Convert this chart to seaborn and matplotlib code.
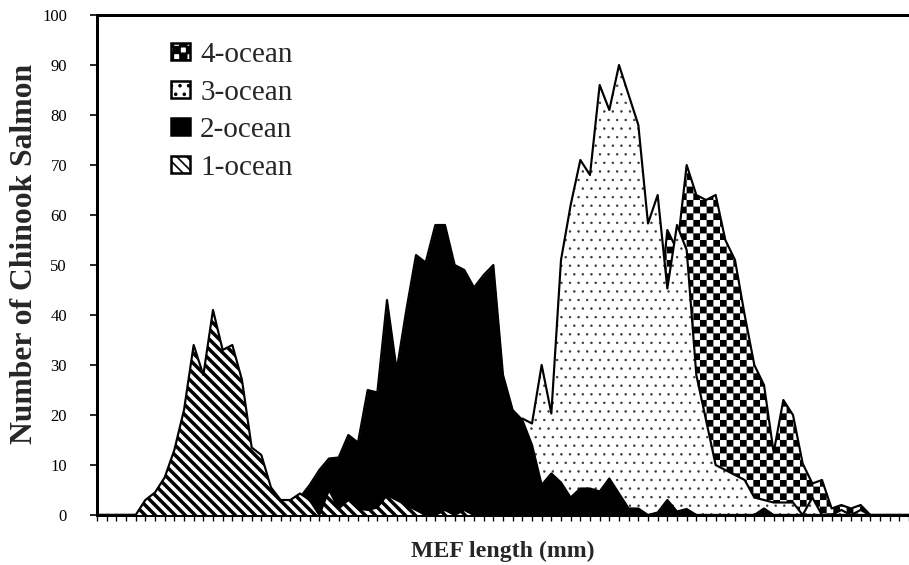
import warnings
warnings.filterwarnings('ignore')
import numpy as np
import pandas as pd
import matplotlib
matplotlib.use('Agg')
import matplotlib.pyplot as plt
from matplotlib import hatch as mhatch
from matplotlib.path import Path
from matplotlib.patches import Patch
import seaborn as sns

# ---------------- data (counts per MEF length bin, 85 bins) ----------------
bins = list(range(85))

one_ocean = [0, 0, 0, 0, 0, 3, 4.5, 7.5, 13, 21,
             34, 28, 41, 33, 34, 27, 13.5, 12, 5.5, 3,
             3, 4.3, 3, 0, 5, 1.3, 3, 1.3, 1, 1.5,
             4, 3, 2, 1, 0, 0, 1, 0, 1, 0] + [0] * 45

two_ocean = [0] * 20 + [1, 3.5, 6, 9, 11.3, 11.5, 16, 14.5, 25, 24.5,
                        43, 29, 41, 52, 50.5, 58, 58, 50, 49, 45.5,
                        48, 50, 28, 21, 19, 14, 6, 8.3, 6.5, 3.5,
                        5.3, 5.3, 4.7, 7.3, 4.3, 1.3, 1.3, 0, 0.5, 3,
                        0.7, 1.2, 0, 0, 0, 0, 0, 0, 0, 1.3] + [0] * 15

three_ocean = [0] * 40 + [1, 3, 7, 13, 19.3, 18.3, 30, 20.3, 51, 62,
                          71, 68, 86, 81, 90, 84, 78, 58.3, 64, 45.3,
                          58, 53, 28, 19, 10, 9, 8, 7, 3.5, 3,
                          2.5, 2.5, 2.5, 0, 3.5, 0, 0, 1, 0, 1] + [0] * 5

four_ocean = [0] * 52 + [1, 2, 4, 8, 15, 25, 38, 57,
                         53, 70, 64, 63, 64, 55, 51, 40, 30, 26,
                         12.5, 23, 20, 10.3, 6.3, 7, 1.3, 2, 1.3, 2] + [0] * 5

series_names = ['4-ocean', '3-ocean', '2-ocean', '1-ocean']
y_ticks = list(range(0, 101, 10))

# ---------------- custom fill patterns ----------------
class CheckerHatch(mhatch.HatchPatternBase):
    def __init__(self, hatch, density):
        self.n = hatch.count('c') * 18
        self.num_vertices = (self.n * self.n // 2) * 5 if self.n else 0

    def set_vertices_and_codes(self, vertices, codes):
        s = 1.0 / self.n
        k = 0
        for r in range(self.n):
            for c in range(self.n):
                if (r + c) % 2 == 0:
                    x0, y0 = c * s, r * s
                    vertices[k:k + 5] = [[x0, y0], [x0 + s, y0], [x0 + s, y0 + s],
                                         [x0, y0 + s], [x0, y0]]
                    codes[k:k + 5] = [Path.MOVETO, Path.LINETO, Path.LINETO,
                                      Path.LINETO, Path.CLOSEPOLY]
                    k += 5


class DotHatch(mhatch.Circles):
    size = 0.11
    filled = True

    def __init__(self, hatch, density):
        self.num_rows = hatch.count('d') * 14
        super().__init__(hatch, density)


mhatch._hatch_types.append(CheckerHatch)
mhatch._hatch_types.append(DotHatch)

BS = chr(92)  # backslash

# ---------------- figure ----------------
sns.set_theme(style='ticks')
plt.rcParams['font.family'] = ['Liberation Serif', 'DejaVu Serif']
plt.rcParams['hatch.linewidth'] = 1.0

DPI = 120
fig = plt.figure(figsize=(909 / DPI, 565 / DPI), dpi=DPI)
fig.patch.set_facecolor('white')
ax = fig.add_axes([97 / 909, 50 / 565, 812 / 909, 500 / 565])
ax.set_facecolor('white')

df = pd.DataFrame({'bin': bins * 4,
                   'count': four_ocean + three_ocean + two_ocean + one_ocean,
                   'series': sum([[n] * len(bins) for n in series_names], [])})

styles = {
    '4-ocean': dict(face='white', hatch='c', hcol='black', hlw=0.05, z=1),
    '3-ocean': dict(face='white', hatch='d', hcol='#333333', hlw=0.3, z=2),
    '2-ocean': dict(face='black', hatch=None, hcol='black', hlw=1.0, z=3),
    '1-ocean': dict(face='white', hatch=BS * 4, hcol='black', hlw=2.1, z=4),
}

for name in series_names:
    st = styles[name]
    sub = df[df['series'] == name]
    with plt.rc_context({'hatch.linewidth': st['hlw']}):
        coll = ax.fill_between(sub['bin'], 0, sub['count'], facecolor=st['face'],
                               edgecolor=st['hcol'], linewidth=0, hatch=st['hatch'],
                               zorder=st['z'])
    if hasattr(coll, 'set_hatch_linewidth'):
        coll.set_hatch_linewidth(st['hlw'])
    sns.lineplot(data=sub, x='bin', y='count', color='black', linewidth=1.3,
                 ax=ax, zorder=st['z'] + 0.5, legend=False)

ax.set_xlim(0, 84)
ax.set_ylim(0, 100)
ax.set_yticks(y_ticks)
ax.set_yticklabels([str(v) for v in y_ticks])
ax.set_xticks(bins)
ax.set_xticklabels([])
ax.tick_params(axis='y', direction='out', length=4, width=1, labelsize=10,
               pad=14, color='black', labelcolor='black')
ax.tick_params(axis='x', direction='out', length=3.5, width=0.8, color='black')

for side in ['left', 'bottom', 'top']:
    ax.spines[side].set_visible(True)
    ax.spines[side].set_linewidth(1.8)
    ax.spines[side].set_color('black')
ax.spines['right'].set_visible(False)

ax.set_ylabel('Number of Chinook Salmon', fontsize=19, fontweight='bold')
ax.yaxis.set_label_coords(-0.072, 0.523)
ax.set_xlabel('MEF length (mm)', fontsize=14.3, fontweight='bold')
ax.xaxis.set_label_coords(0.5, -0.052)

handles = []
for name in series_names:
    st = styles[name]
    with plt.rc_context({'hatch.linewidth': st['hlw']}):
        p = Patch(facecolor=st['face'], edgecolor='black', hatch=st['hatch'],
                  linewidth=1.5, label=name)
    if hasattr(p, 'set_hatch_linewidth'):
        p.set_hatch_linewidth(min(st['hlw'], 1.5))
    handles.append(p)
leg = ax.legend(handles=handles, loc='upper left', frameon=False,
                prop={'family': 'Liberation Serif', 'size': 17.5},
                handlelength=0.65, handleheight=0.52, handletextpad=0.35,
                labelspacing=0.4, borderpad=0, borderaxespad=0,
                bbox_to_anchor=(171 / 909, 1 - 42 / 565),
                bbox_transform=fig.transFigure)
leg.set_zorder(10)

fig.savefig('out.png', dpi=DPI, facecolor='white')
